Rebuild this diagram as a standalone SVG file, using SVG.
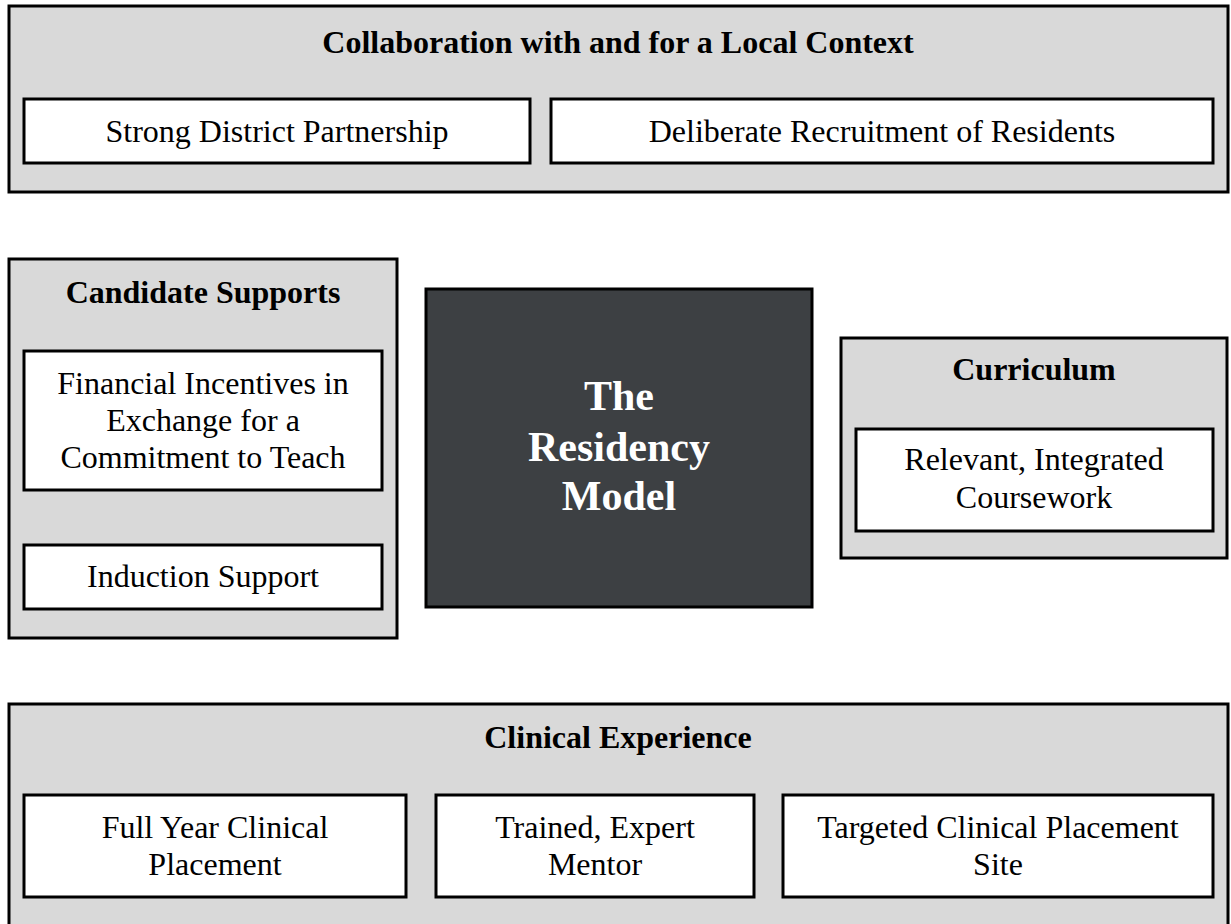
<svg xmlns="http://www.w3.org/2000/svg" width="1231" height="924" viewBox="0 0 1231 924">
  <style>
    .panel { fill: #d9d9d9; stroke: #000; stroke-width: 3; }
    .item { fill: #fff; stroke: #000; stroke-width: 3; }
    .core { fill: #3d4043; stroke: #000; stroke-width: 3; }
    text { font-family: Tinos, "Liberation Serif", "Times New Roman", Times, "Nimbus Roman", "Nimbus Roman No9 L", serif; text-anchor: middle; fill: #000; }
    .head { font-size: 32px; font-weight: bold; }
    .body { font-size: 32px; }
    .core-label { font-size: 42px; font-weight: bold; fill: #fff; }
  </style>
  <rect width="1231" height="924" fill="#fff"/>

  <!-- Collaboration with and for a Local Context -->
  <g id="local-context">
    <rect class="panel" x="9" y="6" width="1219" height="186"/>
    <text class="head" x="618" y="53">Collaboration with and for a Local Context</text>
    <g id="district-partnership">
      <rect class="item" x="24" y="99" width="506" height="64"/>
      <text class="body" x="277" y="142">Strong District Partnership</text>
    </g>
    <g id="resident-recruitment">
      <rect class="item" x="551" y="99" width="662" height="64"/>
      <text class="body" x="882" y="142">Deliberate Recruitment of Residents</text>
    </g>
  </g>

  <!-- Candidate Supports -->
  <g id="candidate-supports">
    <rect class="panel" x="9" y="259" width="388" height="379"/>
    <text class="head" x="203" y="303">Candidate Supports</text>
    <g id="financial-incentives">
      <rect class="item" x="24" y="351" width="358" height="139"/>
      <text class="body" x="203" y="394">Financial Incentives in</text>
      <text class="body" x="203" y="431">Exchange for a</text>
      <text class="body" x="203" y="468">Commitment to Teach</text>
    </g>
    <g id="induction-support">
      <rect class="item" x="24" y="545" width="358" height="64"/>
      <text class="body" x="203" y="587">Induction Support</text>
    </g>
  </g>

  <!-- Central model -->
  <g id="residency-model">
    <rect class="core" x="426" y="289" width="386" height="318"/>
    <text class="core-label" x="619" y="410">The</text>
    <text class="core-label" x="619" y="461">Residency</text>
    <text class="core-label" x="619" y="510">Model</text>
  </g>

  <!-- Curriculum -->
  <g id="curriculum">
    <rect class="panel" x="841" y="338" width="386" height="220"/>
    <text class="head" x="1034" y="380">Curriculum</text>
    <g id="coursework">
      <rect class="item" x="856" y="429" width="357" height="102"/>
      <text class="body" x="1034" y="470">Relevant, Integrated</text>
      <text class="body" x="1034" y="508">Coursework</text>
    </g>
  </g>

  <!-- Clinical Experience -->
  <g id="clinical-experience">
    <rect class="panel" x="9" y="704" width="1219" height="240"/>
    <text class="head" x="618" y="748">Clinical Experience</text>
    <g id="full-year-placement">
      <rect class="item" x="24" y="795" width="382" height="102"/>
      <text class="body" x="215" y="838">Full Year Clinical</text>
      <text class="body" x="215" y="875">Placement</text>
    </g>
    <g id="expert-mentor">
      <rect class="item" x="436" y="795" width="318" height="102"/>
      <text class="body" x="595" y="838">Trained, Expert</text>
      <text class="body" x="595" y="875">Mentor</text>
    </g>
    <g id="placement-site">
      <rect class="item" x="783" y="795" width="430" height="102"/>
      <text class="body" x="998" y="838">Targeted Clinical Placement</text>
      <text class="body" x="998" y="875">Site</text>
    </g>
  </g>

  <!-- no connectors are drawn between the panels -->
  <g id="connectors"/>
</svg>
